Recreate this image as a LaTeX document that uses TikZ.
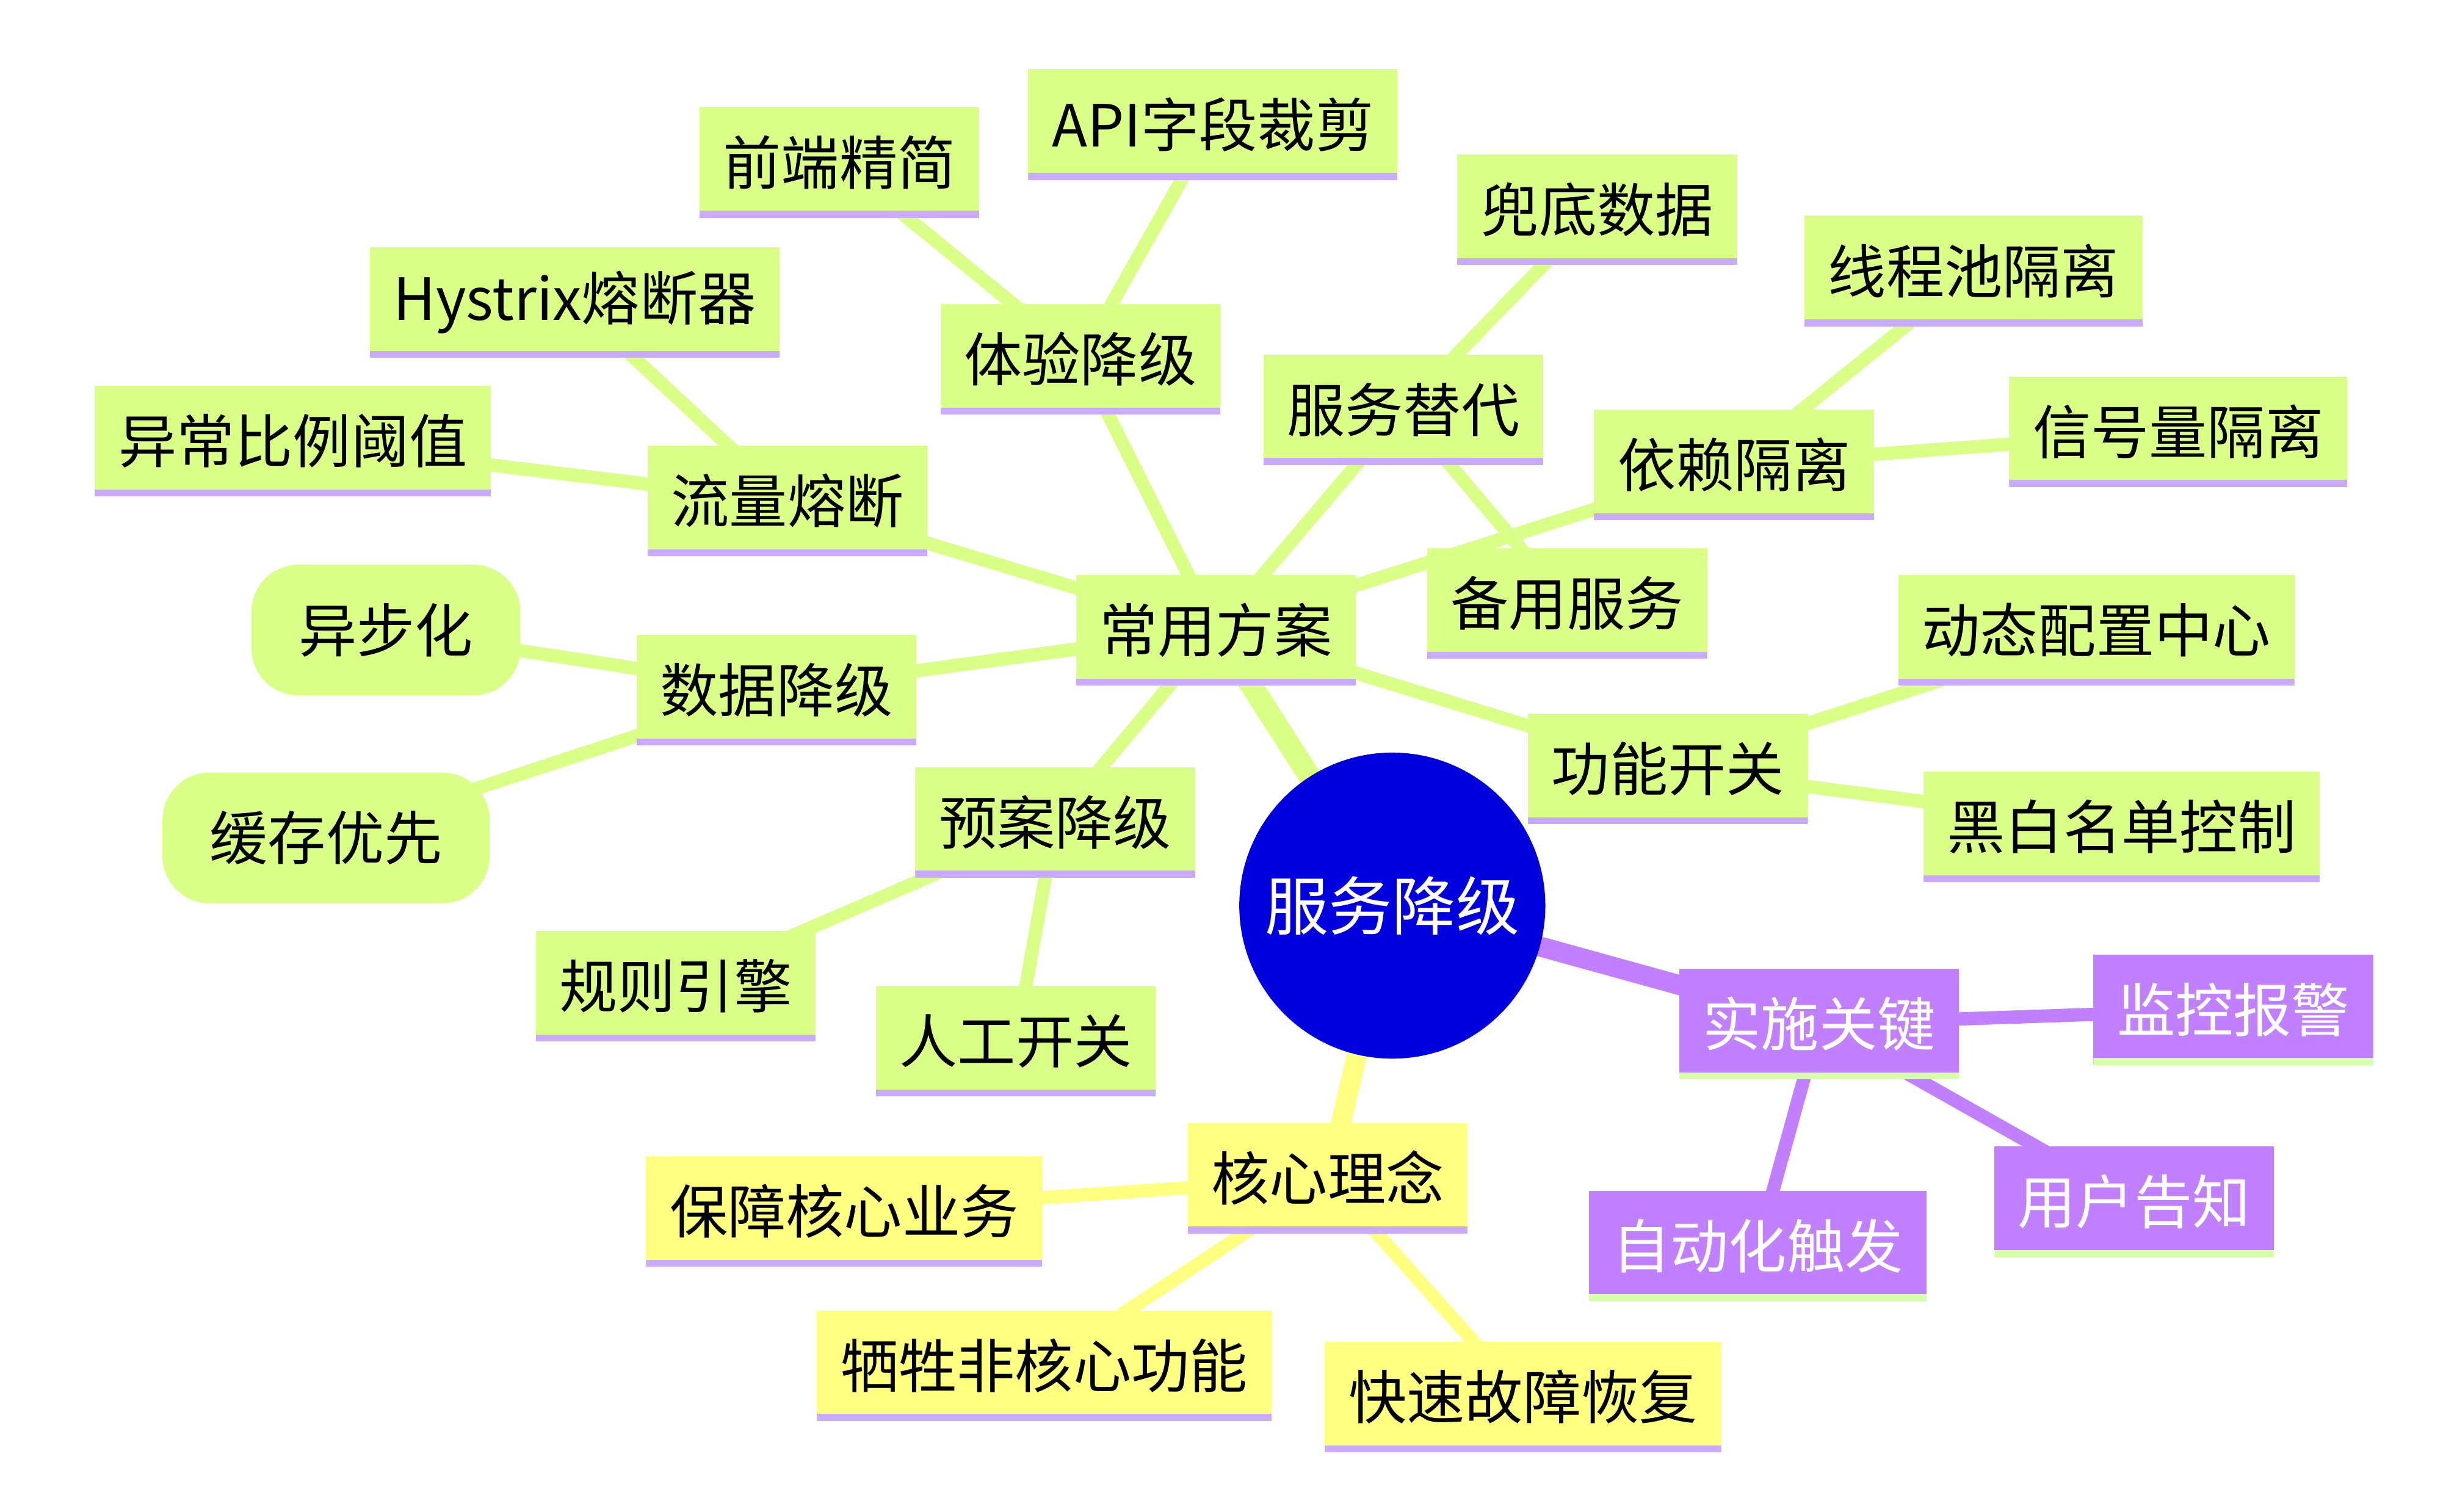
\documentclass[tikz,border=0pt]{standalone}
\usepackage{fontspec}
\setmainfont{Noto Sans CJK SC}
\usetikzlibrary{backgrounds}
\definecolor{gfill}{RGB}{217,255,135}
\definecolor{yfill}{RGB}{255,255,128}
\definecolor{pfill}{RGB}{192,128,255}
\definecolor{gline}{RGB}{200,170,255}
\definecolor{pline}{RGB}{215,255,170}
\definecolor{rootblue}{RGB}{0,0,222}
\tikzset{
 base/.style={inner xsep=0.15cm, minimum height=0.7cm, font=\fontsize{10.5}{12}\selectfont, anchor=center},
 gbox/.style={base, fill=gfill, path picture={\draw[gline, line width=2.4pt] (path picture bounding box.south west) -- (path picture bounding box.south east);}},
 ybox/.style={base, fill=yfill, path picture={\draw[gline, line width=2.4pt] (path picture bounding box.south west) -- (path picture bounding box.south east);}},
 pbox/.style={base, fill=pfill, text=white, path picture={\draw[pline, line width=2.4pt] (path picture bounding box.south west) -- (path picture bounding box.south east);}},
 gpill/.style={base, fill=gfill, rounded corners=0.3cm, minimum height=0.83cm, inner xsep=0.3cm},
 ge/.style={gfill, line width=2.4pt},
 ye/.style={yfill, line width=2.4pt},
 pe/.style={pfill, line width=2.4pt},
}
\begin{document}
\begin{tikzpicture}[x=0.01cm,y=-0.01cm]
\useasboundingbox (0,0) rectangle (1560,960);
\node[circle, fill=rootblue, text=white, minimum size=1.76cm, font=\fontsize{11.5}{13}\selectfont] (root) at (884,575) {服务降级};
\node[gbox] (cy) at (772,400) {常用方案};
\node[ybox] (hx) at (843,748) {核心理念};
\node[pbox] (ss) at (1155,650) {实施关键};
\node[gbox] (ty) at (686,228) {体验降级};
\node[gbox] (qd) at (533,103) {前端精简};
\node[gbox] (api) at (770,79) {API字段裁剪};
\node[gbox] (fw) at (891,260) {服务替代};
\node[gbox] (dd) at (1014,133) {兜底数据};
\node[gbox] (by) at (995,383) {备用服务};
\node[gbox] (yl) at (1101,295) {依赖隔离};
\node[gbox] (xc) at (1253,172) {线程池隔离};
\node[gbox] (xh) at (1383,274) {信号量隔离};
\node[gbox] (gn) at (1059,488) {功能开关};
\node[gbox] (dt) at (1331,400) {动态配置中心};
\node[gbox] (hb) at (1347,525) {黑白名单控制};
\node[gbox] (ll) at (500,318) {流量熔断};
\node[gbox] (hy) at (365,192) {Hystrix熔断器};
\node[gbox] (yc) at (186,280) {异常比例阈值};
\node[gbox] (sj) at (493,438) {数据降级};
\node[gpill] (yb) at (245,400) {异步化};
\node[gpill] (hc) at (207,532) {缓存优先};
\node[gbox] (ya) at (670,522) {预案降级};
\node[gbox] (gz) at (429,626) {规则引擎};
\node[gbox] (rg) at (645,661) {人工开关};
\node[ybox] (bz) at (536,769) {保障核心业务};
\node[ybox] (xs) at (663,867) {牺牲非核心功能};
\node[ybox] (ks) at (967,887) {快速故障恢复};
\node[pbox] (jk) at (1418,641) {监控报警};
\node[pbox] (yh) at (1355,763) {用户告知};
\node[pbox] (zd) at (1116,791) {自动化触发};
\begin{scope}[on background layer]
\draw[gfill, line width=4pt] (root.center) -- (cy.center);
\draw[yfill, line width=3.6pt] (root.center) -- (hx.center);
\draw[pfill, line width=3.6pt] (root.center) -- (ss.center);
\foreach \a/\b in {cy/ty,cy/fw,cy/yl,cy/gn,cy/ll,cy/sj,cy/ya,ty/qd,ty/api,fw/dd,fw/by,yl/xc,yl/xh,gn/dt,gn/hb,ll/hy,ll/yc,sj/yb,sj/hc,ya/gz,ya/rg}
  \draw[ge] (\a.center) -- (\b.center);
\foreach \b in {bz,xs,ks} \draw[ye] (hx.center) -- (\b.center);
\foreach \b in {jk,yh,zd} \draw[pe] (ss.center) -- (\b.center);
\end{scope}
\end{tikzpicture}
\end{document}
